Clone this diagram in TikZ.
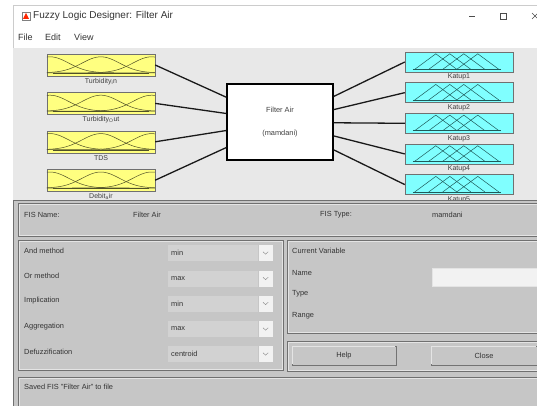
\documentclass[tikz,border=0pt]{standalone}
\usepackage{fontspec}
\setmainfont{Liberation Sans}
\usetikzlibrary{positioning,calc}
\definecolor{colup}{RGB}{232,232,232}
\definecolor{collow}{RGB}{198,198,198}
\definecolor{colin}{RGB}{255,255,128}
\definecolor{colout}{RGB}{128,255,255}
\definecolor{colfield}{RGB}{210,210,210}
\definecolor{colwhite}{RGB}{242,242,242}
\definecolor{colframe}{RGB}{112,112,112}
\definecolor{colhi}{RGB}{228,228,228}
\definecolor{colmfin}{RGB}{80,80,40}
\definecolor{colmfout}{RGB}{30,90,90}
\tikzstyle{inbox}=[draw=colframe, fill=colin, minimum width=108pt, minimum height=22pt, inner sep=0pt]
\tikzstyle{outbox}=[draw=colframe, fill=colout, minimum width=108pt, minimum height=20pt, inner sep=0pt]
\tikzstyle{mfin}=[colmfin, line width=0.5pt]
\tikzstyle{mfout}=[colmfout, line width=0.5pt]
\tikzstyle{fisbox}=[draw=black, line width=1.3pt, fill=white, minimum width=106pt, minimum height=76pt, align=center, font=\fontsize{7.4}{8.9}\selectfont, text=black!75]
\tikzstyle{conn}=[draw=black!90, line width=1.3pt]
\tikzstyle{lbl}=[inner sep=0.5pt, font=\fontsize{7}{8}\selectfont, text=black!75]
\tikzstyle{txt}=[anchor=west, inner sep=0pt, text=black!80]
\tikzstyle{panel}=[draw=colframe, line width=0.9pt]
\tikzstyle{etch}=[draw=colhi, line width=0.5pt]
\tikzstyle{field}=[anchor=west, fill=colfield, minimum width=90pt, minimum height=16pt, text width=84pt, inner sep=3pt, align=left, text=black!80]
\tikzstyle{arrowbox}=[anchor=west, fill=colwhite, minimum width=14pt, minimum height=16pt, inner sep=0pt]
\tikzstyle{btn}=[draw=black!55, line width=0.8pt, fill=collow, minimum height=19pt, inner sep=0pt, text=black!80]
\begin{document}
\begin{tikzpicture}[x=1pt,y=-1pt,font=\fontsize{7.4}{8.9}\selectfont]
    \useasboundingbox[fill=white] (0,0) rectangle (537,406);
    % window frame and title
    \draw[black!20] (13,406) |- (545,5);
    \draw[black!50, fill=white] (22,12) rectangle (30,20);
    \fill[red!70!orange] (23,19) -- (26,13) -- (29,19) -- cycle;
    \node[txt, font=\fontsize{10}{12}\selectfont] (title) at (33,16) {Fuzzy Logic Designer: Filter Air};
    \draw[black!70, line width=0.6pt] (469,16) -- (475,16);
    \draw[black!70, line width=0.6pt] (500,13) rectangle (506,19);
    \draw[black!70, line width=0.6pt] (532,13) -- (538,19) (532,19) -- (538,13);
    \node[txt, font=\fontsize{9}{11}\selectfont] (file) at (18,37) {File};
    \node[txt, font=\fontsize{9}{11}\selectfont] (edit) at (45,37) {Edit};
    \node[txt, font=\fontsize{9}{11}\selectfont] (view) at (74,37) {View};
    % upper panel
    \fill[colup] (13,48) rectangle (545,200);
    \node[inbox] (in1) at (101,65) {};
    \node[inbox, below=16pt of in1] (in2) {};
    \node[inbox, below=16pt of in2] (in3) {};
    \node[inbox, below=16pt of in3] (in4) {};
    \node[lbl, below=1.5pt of in1] {Turbidity\textsubscript{i}n};
    \node[lbl, below=1.5pt of in2] {Turbidity\textsubscript{O}ut};
    \node[lbl, below=1.5pt of in3] {TDS};
    \node[lbl, below=1.5pt of in4] {Debit\textsubscript{a}ir};
    \node[fisbox] (fis) at (280,122) {Filter Air\\[14pt](mamdani)};
    \node[outbox] (out1) at (459,62) {};
    \node[outbox, below=10.25pt of out1] (out2) {};
    \node[outbox, below=10.25pt of out2] (out3) {};
    \node[outbox, below=10.25pt of out3] (out4) {};
    \node[outbox, below=10.25pt of out4] (out5) {};
    \foreach \i in {1,...,5}
      \node[lbl, below=1pt of out\i] {Katup\i};
    % membership functions
    \foreach \i in {1,...,4} {
      \begin{scope}[shift={(in\i.north west)}]
        \foreach \m in {0.03,0.5,0.97}
          \draw[mfin] plot[domain=0:108, samples=40] (\x,{19-16*exp(-((\x/108-\m)^2)/0.06)});
        \draw[mfin, line width=0.6pt] (6,19.3) -- (102,19.3);
      \end{scope}
    }
    \foreach \i in {1,...,5} {
      \begin{scope}[shift={(out\i.north west)}]
        \foreach \p in {31,45,59,73}
          \draw[mfout] (\p-21,17.5) -- (\p,2) -- (\p+21,17.5);
        \draw[mfout, line width=0.6pt] (8,17.5) -- (96,17.5);
      \end{scope}
    }
    \foreach \i/\f in {1/0.18,2/0.39,3/0.61,4/0.83}
      \draw[conn] (in\i.east) -- ($(fis.north west)!\f!(fis.south west)$);
    \foreach \i/\f in {1/0.17,2/0.34,3/0.51,4/0.68,5/0.86}
      \draw[conn] ($(fis.north east)!\f!(fis.south east)$) -- (out\i.west);
    % lower panel
    \fill[collow] (13,200) rectangle (545,420);
    \draw[colframe, line width=1pt] (13,200) -- (545,200);
    \draw[colframe, line width=1pt] (13,200) -- (13,406);
    \foreach \xa/\ya/\xb/\yb in {18/203/545/236, 18/240/283/370, 287/240/545/333, 287/341/545/371, 18/377/545/420} {
      \draw[panel] (\xa,\ya) rectangle (\xb,\yb);
      \draw[etch] (\xa+1.2,\ya+1.2) rectangle (\xb-1.2,\yb-1.2);
    }
    \node[txt] (fisname) at (24,215) {FIS Name:};
    \node[txt] (fisnamev) at (133,215) {Filter Air};
    \node[txt] (fistype) at (320,215) {FIS Type:};
    \node[txt] (fistypev) at (432,215) {mamdani};
    \foreach \lab/\val/\yy [count=\k] in {And method/min/253, Or method/max/278.5, Implication/min/303.5, Aggregation/max/329, Defuzzification/centroid/354} {
      \node[txt] (par\k) at (24,\yy-2.5) {\lab};
      \node[field] (val\k) at (168,\yy) {\val};
      \node[arrowbox] (arr\k) at (val\k.east) {};
      \draw[black!45, line width=0.5pt] ($(arr\k.center)+(-2.5,-1.2)$) -- ($(arr\k.center)+(0,1.2)$) -- ($(arr\k.center)+(2.5,-1.2)$);
    }
    \node[txt] (curvar) at (292,251) {Current Variable};
    \node[txt] (name) at (292,273) {Name};
    \node[txt] (type) at (292,294) {Type};
    \node[txt] (range) at (292,316) {Range};
    \node[fill=colwhite, draw=colhi, minimum width=105pt, minimum height=18pt, inner sep=0pt] (namef) at (484.5,277) {};
    \node[btn, minimum width=104pt] (help) at (344,355.5) {Help};
    \node[btn, minimum width=106pt] (close) at (484,355.5) {Close};
    \foreach \b in {help,close}
      \draw[colhi, line width=0.8pt] ([shift={(1.2,-1.2)}]\b.south west) |- ([shift={(-1.2,1.2)}]\b.north east);
    \node[txt] (status) at (24,387) {Saved FIS "Filter Air" to file};
\end{tikzpicture}
\end{document}
